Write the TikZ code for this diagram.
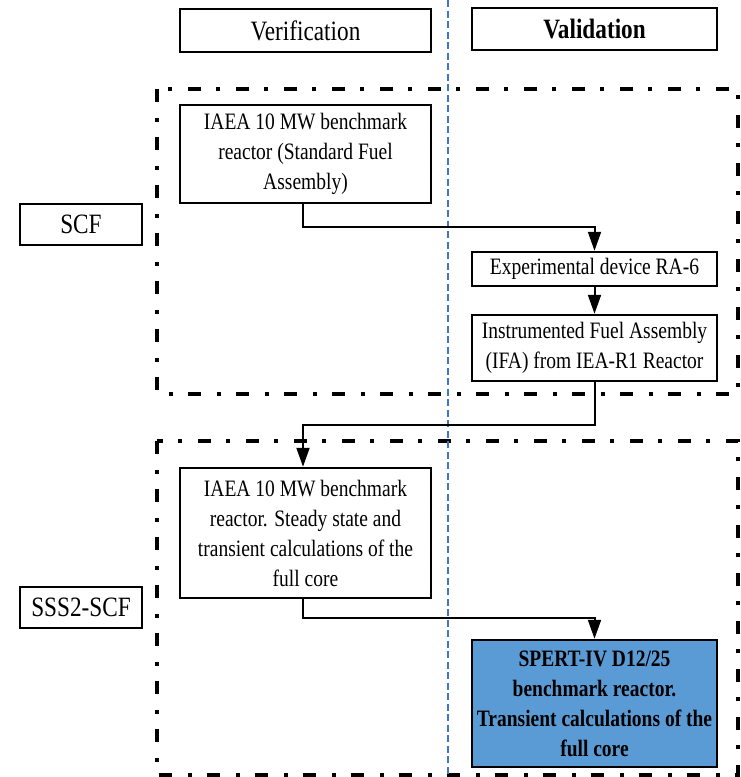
\documentclass[tikz,border=0pt]{standalone}
\usepackage{fontspec}
\setmainfont[FakeStretch=0.83]{Liberation Serif}
\usetikzlibrary{arrows.meta}
\definecolor{vline}{HTML}{4472C4}
\definecolor{spfill}{HTML}{5B9BD5}
\tikzset{
  x=1pt, y=1pt,
  box/.style={draw=black, line width=2.5pt, align=center, inner sep=0pt,
    font=\fontsize{23.5}{30}\selectfont},
  hdr/.style={box, font=\fontsize{28}{30}\selectfont},
  group/.style={draw=black, line width=4.5pt, dash pattern=on 13pt off 16pt on 4pt off 15pt},
  conn/.style={draw=black, line width=2pt, -{Triangle[length=19pt,width=13pt]}},
  divider/.style={draw=vline, line width=1.6pt, dash pattern=on 7pt off 3.5pt}
}
\begin{document}
\begin{tikzpicture}
\useasboundingbox (0,0) rectangle (740,-777);
% grouping frames
\draw[group] (157,-89) rectangle (738,-394);
\draw[group] (157,-441) rectangle (738,-775);
% divider
\draw[divider] (448,0) -- (448,-777);
% headers
\node[hdr, minimum width=251pt, minimum height=43pt] (ver) at (305.5,-30.5) {Verification};
\node[hdr, minimum width=245pt, minimum height=42pt] (val) at (594.5,-29) {\bfseries Validation};
\node[hdr, minimum width=122pt, minimum height=41pt] (scf) at (81,-224.5) {SCF};
\node[hdr, minimum width=122pt, minimum height=41pt] (sss) at (81,-607.5) {SSS2-SCF};
% boxes
\node[box, fill=white, minimum width=251pt, minimum height=98pt] (iaea1) at (305.5,-154)
  {IAEA 10 MW benchmark\\reactor (Standard Fuel\\Assembly)};
\node[box, fill=white, minimum width=245pt, minimum height=34pt] (exp) at (594.5,-269)
  {Experimental device RA-6};
\node[box, fill=white, minimum width=245pt, minimum height=66pt] (ifa) at (594.5,-348)
  {Instrumented Fuel Assembly\\(IFA) from IEA-R1 Reactor};
\node[box, fill=white, minimum width=251pt, minimum height=130pt] (iaea2) at (305.5,-533)
  {IAEA 10 MW benchmark\\reactor. Steady state and\\transient calculations of the\\full core};
\node[box, fill=spfill, minimum width=245pt, minimum height=127pt] (spert) at (594.5,-703.5)
  {\bfseries SPERT-IV D12/25\\\bfseries benchmark reactor.\\\bfseries Transient calculations of the\\\bfseries full core};
% connectors
\draw[conn] ([xshift=-2.5pt]iaea1.south) -- ([xshift=-2.5pt,yshift=-23pt]iaea1.south) -| (exp.north);
\draw[conn] (exp.south) -- (ifa.north);
\draw[conn] (ifa.south) -- ([yshift=-43pt]ifa.south) -| ([xshift=-2.5pt]iaea2.north);
\draw[conn] ([xshift=-2.5pt]iaea2.south) -- ([xshift=-2.5pt,yshift=-19pt]iaea2.south) -| (spert.north);
\end{tikzpicture}
\end{document}
